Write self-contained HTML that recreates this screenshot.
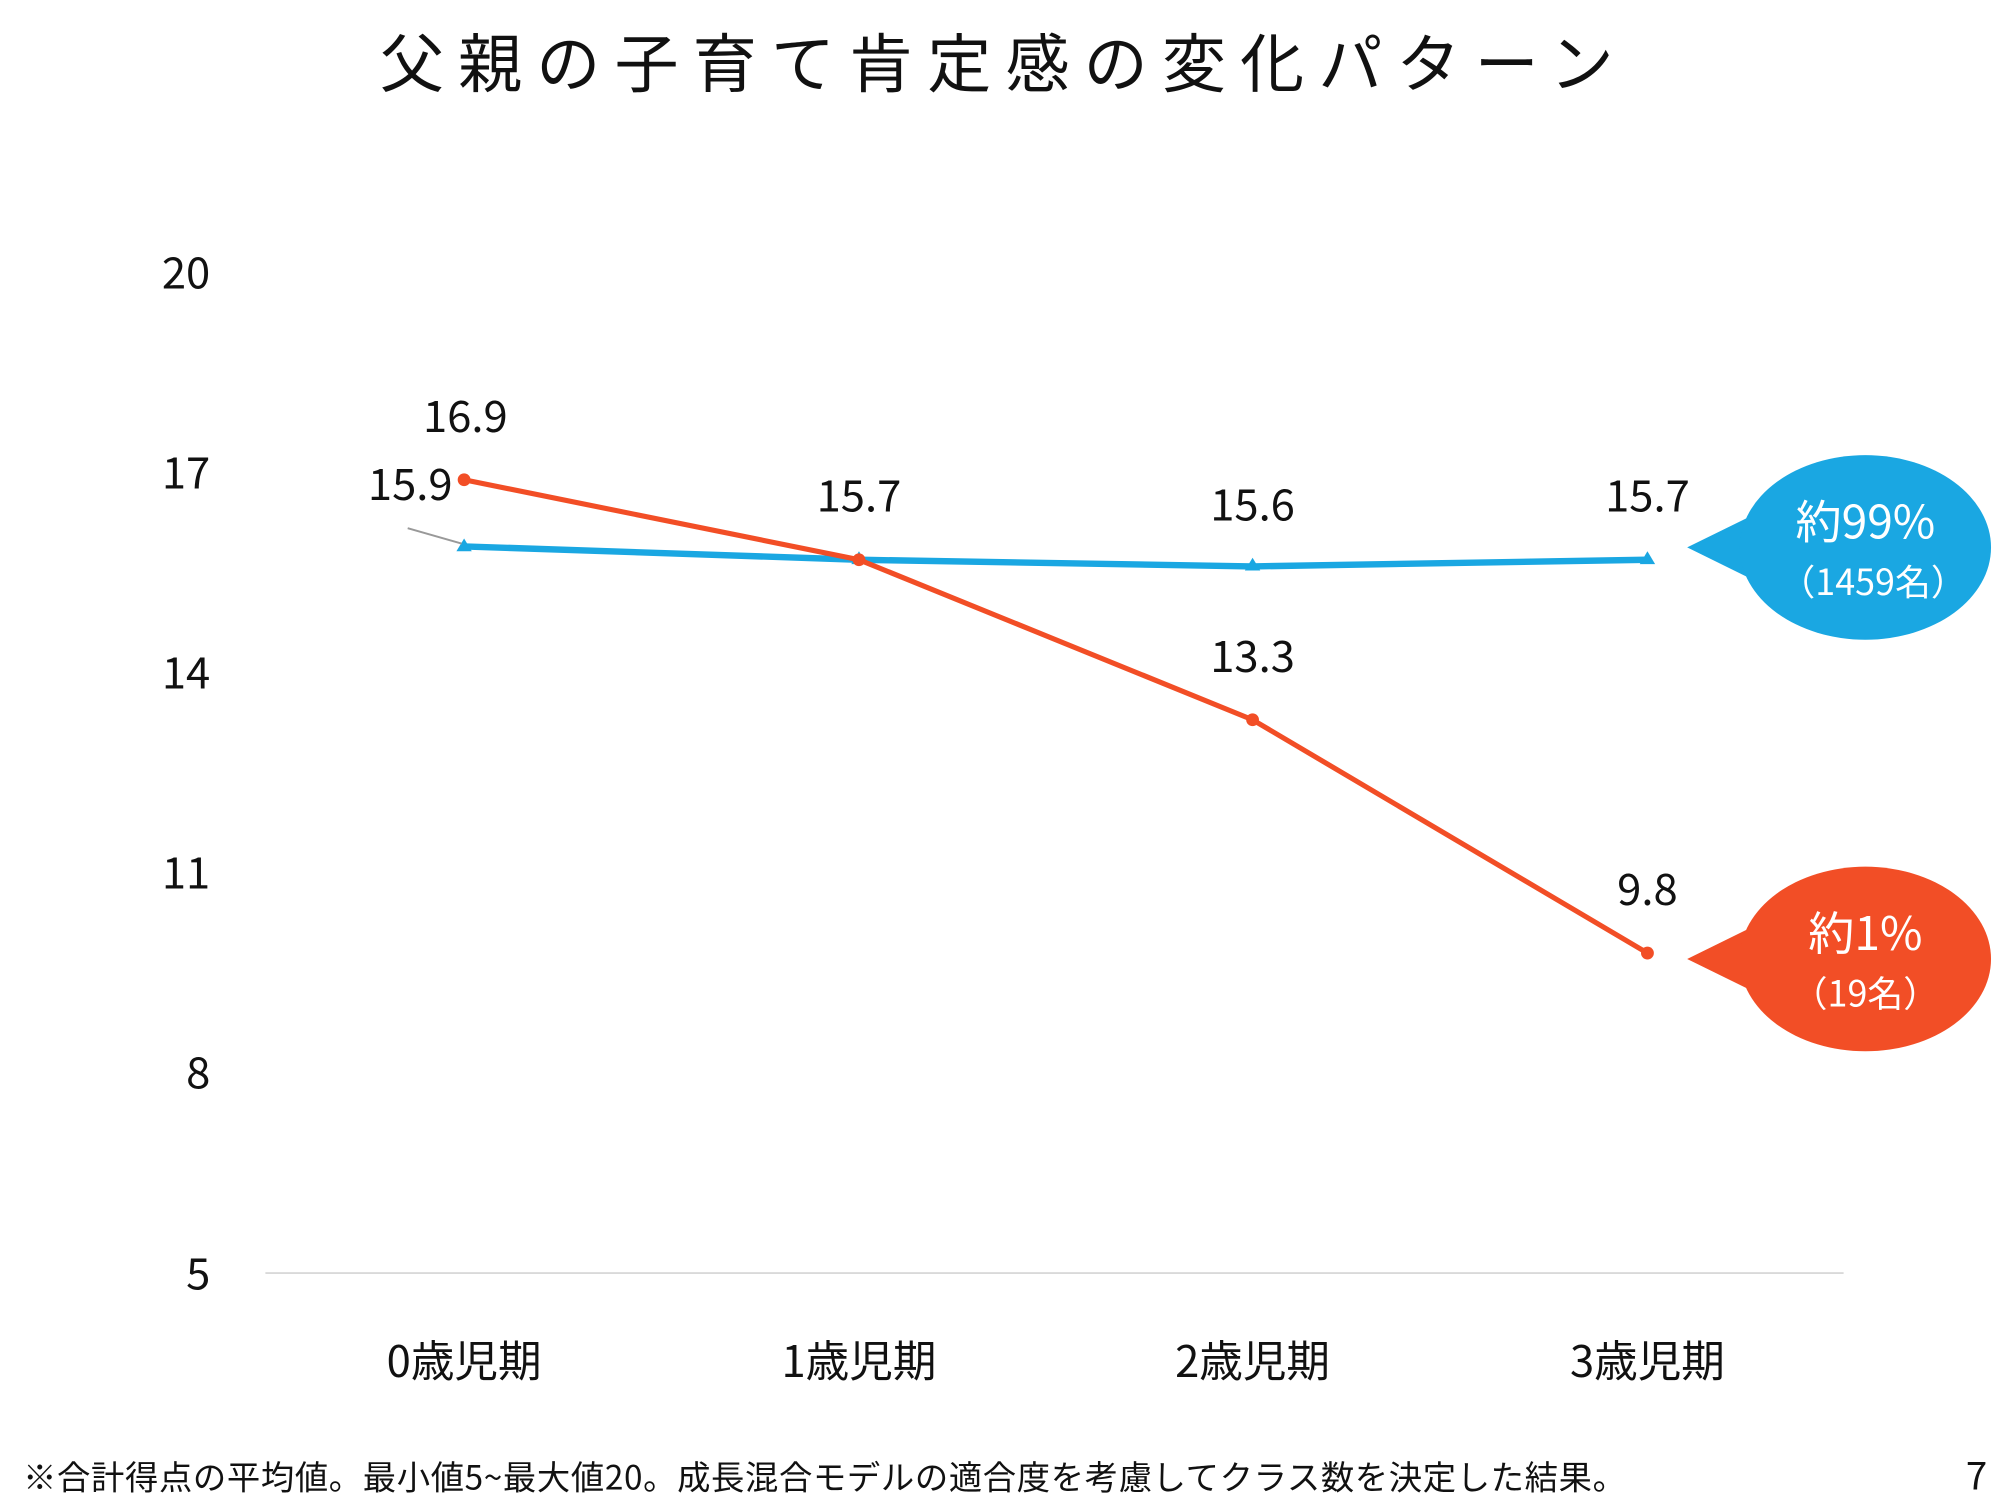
<!DOCTYPE html>
<html><head><meta charset="utf-8"><style>
html,body{margin:0;padding:0;background:#fff;}
svg{display:block;}
text{font-family:"Noto Sans CJK JP","Liberation Sans",sans-serif;fill:#111;}
</style></head><body>
<svg width="2000" height="1500" viewBox="0 0 1560 1170" xmlns="http://www.w3.org/2000/svg">
<text x="783" y="68" font-size="50" text-anchor="middle" letter-spacing="11">父親の子育て肯定感の変化パターン</text>
<g font-size="34" text-anchor="end">
<text x="164" y="225">20</text>
<text x="164" y="381">17</text>
<text x="164" y="537">14</text>
<text x="164" y="693">11</text>
<text x="164" y="849">8</text>
<text x="164" y="1006">5</text>
</g>
<line x1="207" y1="993" x2="1438" y2="993" stroke="#d9d9d9" stroke-width="1.5"/>
<g font-size="34" text-anchor="middle">
<text x="362" y="1074">0歳児期</text>
<text x="670" y="1074">1歳児期</text>
<text x="977" y="1074">2歳児期</text>
<text x="1285" y="1074">3歳児期</text>
</g>
<polyline points="362,426.2 670,436.6 977,441.8 1285,436.6" fill="none" stroke="#1aa7e2" stroke-width="5"/>
<g fill="#1aa7e2">
<polygon points="362,420 356,430 368,430"/><polygon points="670,430 664,440 676,440"/>
<polygon points="977,435 971,445 983,445"/><polygon points="1285,430 1279,440 1291,440"/>
</g>
<polyline points="362,374.2 670,436.6 977,561.4 1285,743.4" fill="none" stroke="#f24e26" stroke-width="4"/>
<g fill="#f24e26">
<circle cx="362" cy="374.2" r="5"/><circle cx="670" cy="436.6" r="5"/>
<circle cx="977" cy="561.4" r="5"/><circle cx="1285" cy="743.4" r="5"/>
</g>
<line x1="318" y1="412" x2="360" y2="424" stroke="#999" stroke-width="1.5"/>
<g font-size="34" text-anchor="middle">
<text x="363" y="337">16.9</text>
<text x="320" y="390">15.9</text>
<text x="670" y="399">15.7</text>
<text x="977" y="406">15.6</text>
<text x="1285" y="399">15.7</text>
<text x="977" y="524">13.3</text>
<text x="1285" y="706">9.8</text>
</g>
<path d="M1316,427 L1375,398 L1375,456 Z" fill="#1aa7e2"/>
<ellipse cx="1455" cy="427" rx="98" ry="72" fill="#1aa7e2"/>
<text x="1455" y="420" font-size="36" text-anchor="middle" style="fill:#fff">約99%</text>
<text x="1461" y="464" font-size="28" text-anchor="middle" style="fill:#fff">（1459名）</text>
<path d="M1316,748 L1375,719 L1375,777 Z" fill="#f24e26"/>
<ellipse cx="1455" cy="748" rx="98" ry="72" fill="#f24e26"/>
<text x="1455" y="741" font-size="36" text-anchor="middle" style="fill:#fff">約1%</text>
<text x="1455" y="785" font-size="28" text-anchor="middle" style="fill:#fff">（19名）</text>
<text x="18" y="1162" font-size="26" letter-spacing="0.5">※合計得点の平均値。最小値5~最大値20。成長混合モデルの適合度を考慮してクラス数を決定した結果。</text>
<text x="1550" y="1162" font-size="30" text-anchor="end">7</text>
</svg>
</body></html>
